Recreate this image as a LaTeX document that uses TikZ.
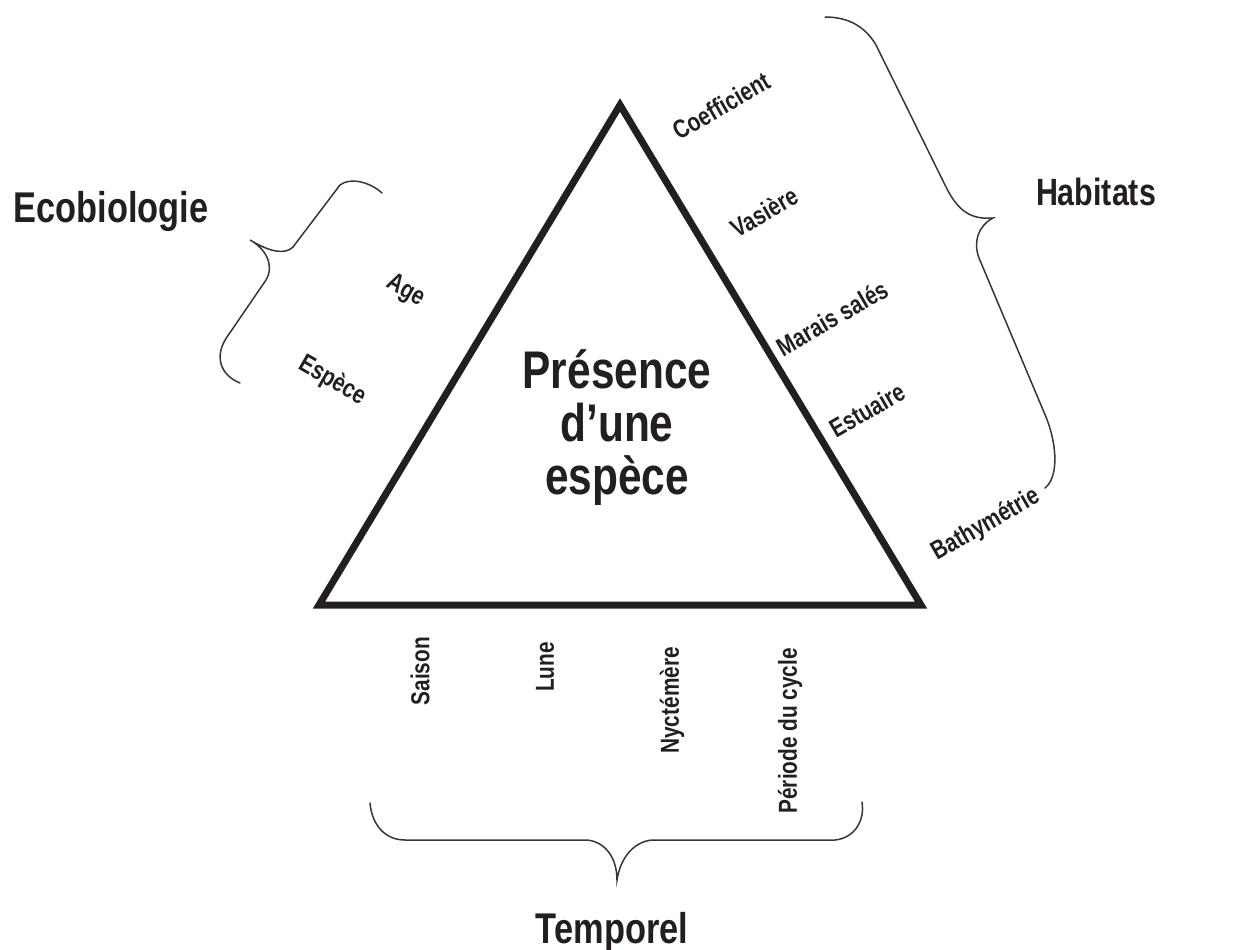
\documentclass[tikz,border=0pt]{standalone}
\usepackage{fontspec}
\setmainfont[FakeStretch=0.8]{Liberation Sans}
\definecolor{ink}{HTML}{231F20}
\definecolor{bracec}{HTML}{3A3438}
\tikzset{
  tri/.style={line width=7pt, line join=miter, draw=ink},
  bracepath/.style={line width=1.5pt, draw=bracec, line cap=round},
  biglabel/.style={font=\fontsize{43}{43}\selectfont\bfseries, text=ink, inner sep=0pt, anchor=base},
  smalllabel/.style={font=\fontsize{26}{26}\selectfont\bfseries, text=ink, inner sep=0pt},
  rlabel/.style={smalllabel, rotate=30, anchor=center},
  llabel/.style={smalllabel, rotate=-30, anchor=center},
  blabel/.style={smalllabel, rotate=90, anchor=east},
}
\begin{document}
\begin{tikzpicture}[x=1pt,y=-1pt]
\useasboundingbox (0,0) rectangle (1240,950);
% triangle
\coordinate (A) at (620,105);
\coordinate (B) at (319,605);
\coordinate (C) at (921,605);
\draw[tri] (A) -- (C) -- (B) -- cycle;
% central text
\node[font=\fontsize{53}{53}\selectfont\bfseries, text=ink, align=center, inner sep=0pt] (center) at (617,428) {Présence\\d’une\\espèce};
% group titles
\node[biglabel] (eco) at (111,222) {Ecobiologie};
\node[biglabel, font=\fontsize{38}{38}\selectfont\bfseries] (hab) at (1096,205) {Habitats};
\node[biglabel] (temp) at (612,943) {Temporel};
% right labels
\node[rlabel] (coef) at (721,106) {Coefficient};
\node[rlabel] (vas) at (764,212) {Vasière};
\node[rlabel] (mar) at (832,318) {Marais salés};
\node[rlabel] (est) at (867,410) {Estuaire};
\node[rlabel] (bat) at (986,525) {Bathymétrie};
% left labels
\node[llabel] (age) at (406,291) {Age};
\node[llabel] (esp) at (332,381) {Espèce};
% bottom labels
\node[blabel] (sai) at (420,637) {Saison};
\node[blabel] (lun) at (545,642) {Lune};
\node[blabel] (nyc) at (672,647) {Nyctémère};
\node[blabel] (per) at (790,648) {Période du cycle};
% braces
\coordinate (hb1) at (825,17);
\coordinate (htip) at (993,218);
\coordinate (hb2) at (1045,488);
\draw[bracepath] (hb1) .. controls (850,17) and (866,28) .. (876,45) -- (945,185)
  .. controls (957,210) and (970,220) .. (htip)
  .. controls (978,226) and (973,242) .. (979,258) -- (1046,417)
  .. controls (1058,447) and (1058,478) .. (hb2);
\coordinate (eb1) at (382,193);
\coordinate (etip) at (250,240);
\coordinate (eb2) at (240,383);
\draw[bracepath] (eb1) .. controls (370,182) and (350,177) .. (340,185) -- (293,247)
  .. controls (285,255) and (270,252) .. (etip)
  .. controls (265,248) and (275,265) .. (266,280) -- (227,337)
  .. controls (214,356) and (220,375) .. (eb2);
\coordinate (tb1) at (370,803);
\coordinate (ttip) at (617,880);
\coordinate (tb2) at (862,802);
\draw[bracepath] (tb1) .. controls (372,825) and (385,840) .. (405,840) -- (587,840)
  .. controls (607,842) and (617,860) .. (ttip)
  .. controls (620,860) and (632,842) .. (652,840) -- (835,840)
  .. controls (855,838) and (865,820) .. (tb2);
\end{tikzpicture}
\end{document}
